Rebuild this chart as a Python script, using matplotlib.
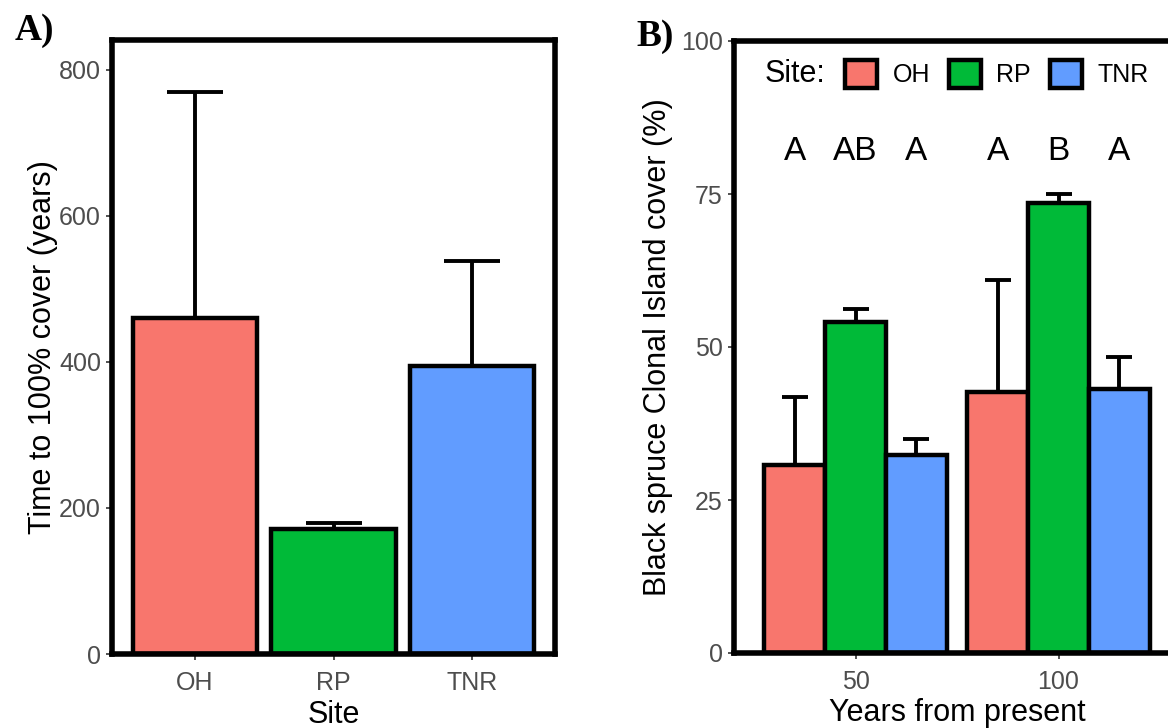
import matplotlib.pyplot as plt
from matplotlib.patches import Patch
import numpy as np

plt.rcParams['font.family'] = ['Liberation Sans', 'DejaVu Sans']

# Site colours (ggplot default hues)
sites = ['OH', 'RP', 'TNR']
site_colors = ['#F8766D', '#00BA38', '#619CFF']

# (A) time to 100% cover (years): mean and upper error
time_mean = [460, 171, 395]
time_err = [310, 8, 143]

# (B) clonal island cover (%) at 50 and 100 years from present
years = ['50', '100']
cover_oh = [30.8, 42.6]
cover_rp = [54.1, 73.5]
cover_tnr = [32.3, 43.1]
err_oh = [11.0, 18.3]
err_rp = [2.1, 1.5]
err_tnr = [2.7, 5.3]
letters_oh = ['A', 'A']
letters_rp = ['AB', 'B']
letters_tnr = ['A', 'A']

base = 22
small = 18
tick_col = '#4D4D4D'
W, H = 1168, 728

fig = plt.figure(figsize=(W / 100, H / 100), dpi=100)

def px_axes(x0, x1, y0, y1):
    # pixel box (left, right, top, bottom) -> figure fraction
    return fig.add_axes([x0 / W, 1 - y1 / H, (x1 - x0) / W, (y1 - y0) / H])

def style(ax):
    for s in ax.spines.values():
        s.set_linewidth(4)
        s.set_color('black')
    ax.tick_params(axis='both', length=4, width=1.2, color='#333333',
                   labelsize=small, labelcolor=tick_col, pad=4)
    ax.tick_params(axis='x', pad=8)

# ---- panel A ----
axA = px_axes(112, 555, 40, 654)
xA = np.arange(1, len(sites) + 1)
axA.errorbar(xA, time_mean, yerr=[np.zeros(len(sites)), time_err], fmt='none',
             ecolor='black', elinewidth=2.8, capsize=20, capthick=2.8, zorder=1)
axA.bar(xA, time_mean, width=0.9, color=site_colors, edgecolor='black',
        linewidth=3.2, zorder=2)
axA.set_xlim(0.4, 3.6)
axA.set_ylim(0, 841)
axA.set_yticks([0, 200, 400, 600, 800])
axA.set_xticks(xA)
axA.set_xticklabels(sites)
axA.set_xlabel('Site', fontsize=base)
axA.set_ylabel('Time to 100% cover (years)', fontsize=base)
axA.yaxis.set_label_coords(-0.122, 0.5)
axA.xaxis.set_label_coords(0.5, -0.075)
style(axA)

# ---- panel B ----
axB = px_axes(733.7, 1180.3, 41, 653)
xB = np.arange(1, len(years) + 1)
bw = 0.3
series = [(cover_oh, err_oh, letters_oh), (cover_rp, err_rp, letters_rp),
          (cover_tnr, err_tnr, letters_tnr)]
for i, (vals, errs, lets) in enumerate(series):
    xs = xB + (i - 1) * bw
    axB.errorbar(xs, vals, yerr=[np.zeros(len(vals)), errs], fmt='none',
                 ecolor='black', elinewidth=2.8, capsize=9.5, capthick=2.8, zorder=1)
    axB.bar(xs, vals, width=bw, color=site_colors[i], edgecolor='black',
            linewidth=3.2, zorder=2)
    for x, l in zip(xs, lets):
        axB.text(x, 82.0, l, ha='center', va='center', fontsize=24, color='black')
axB.set_xlim(0.4, 2.6)
axB.set_ylim(0, 100)
axB.set_yticks([0, 25, 50, 75, 100])
axB.set_xticks(xB)
axB.set_xticklabels(years)
axB.set_xlabel('Years from present', fontsize=base)
axB.set_ylabel('Black spruce Clonal Island cover (%)', fontsize=base)
axB.yaxis.set_label_coords(-0.136, 0.5)
axB.xaxis.set_label_coords(0.5, -0.074)
style(axB)

handles = [Patch(facecolor=c, edgecolor='black', linewidth=3.2, label=s)
           for c, s in zip(site_colors, sites)]
axB.text(0.554, 94.6, 'Site:', ha='left', va='center', fontsize=base)
axB.legend(handles=handles, ncol=3, loc='center left', bbox_to_anchor=(0.948, 94.6),
           bbox_transform=axB.transData, frameon=False, fontsize=small,
           handlelength=1.3, handleheight=1.3, handletextpad=0.6,
           columnspacing=0.75, borderpad=0, borderaxespad=0)

fig.text(15 / W, 1 - 30 / H, 'A)', family='Liberation Serif', fontweight='bold',
         fontsize=27, ha='left', va='center')
fig.text(636 / W, 1 - 36 / H, 'B)', family='Liberation Serif', fontweight='bold',
         fontsize=27, ha='left', va='center')

fig.savefig('out.png', dpi=100)
